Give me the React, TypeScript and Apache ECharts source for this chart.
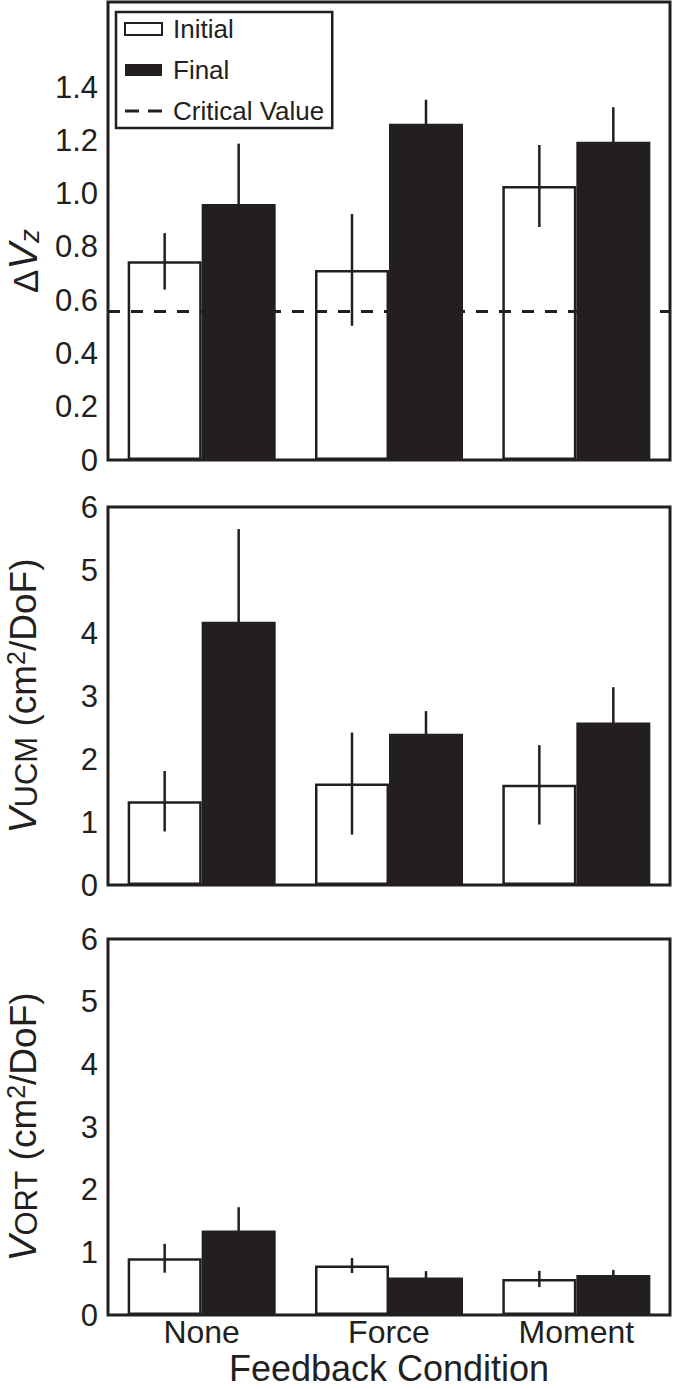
import React, { useEffect, useRef } from 'react';
import * as echarts from 'echarts';

const categories = ['None', 'Force', 'Moment'];

const dvzInitial = [0.746, 0.714, 1.029];
const dvzInitialErr = [0.106, 0.21, 0.154];
const dvzFinal = [0.961, 1.263, 1.195];
const dvzFinalErr = [0.227, 0.09, 0.13];
const criticalValue = 0.56;

const ucmInitial = [1.33, 1.61, 1.59];
const ucmInitialErr = [0.48, 0.81, 0.63];
const ucmFinal = [4.18, 2.4, 2.58];
const ucmFinalErr = [1.47, 0.36, 0.56];

const ortInitial = [0.905, 0.79, 0.575];
const ortInitialErr = [0.23, 0.12, 0.13];
const ortFinal = [1.35, 0.6, 0.64];
const ortFinalErr = [0.37, 0.1, 0.08];

const dvzTickLabels = ['0', '0.2', '0.4', '0.6', '0.8', '1.0', '1.2', '1.4'];
const varTickLabels = ['0', '1', '2', '3', '4', '5', '6'];

const INK = '#231f20';
const FONT = "'Liberation Sans', Arial, Helvetica, sans-serif";
const BAR_W = 74;

const dashIcon =
  'path://M0,0h0.01v0.01h-0.01z M0,4.6h14v2.8h-14z M23,4.6h14v2.8h-14z M36.99,11.99h0.01v0.01h-0.01z';

function errorSeries(idx: number, means: number[], errs: number[], offset: number) {
  return {
    type: 'custom',
    xAxisIndex: idx,
    yAxisIndex: idx,
    silent: true,
    z: 5,
    data: means.map((m, i) => [i, m - errs[i], m + errs[i]]),
    renderItem: (_params: any, api: any) => {
      const lo = api.coord([api.value(0), api.value(1)]);
      const hi = api.coord([api.value(0), api.value(2)]);
      return {
        type: 'line',
        shape: { x1: lo[0] + offset, y1: lo[1], x2: hi[0] + offset, y2: hi[1] },
        style: { stroke: INK, lineWidth: 2.5 },
      };
    },
  };
}

function barPair(idx: number, init: number[], fin: number[]) {
  return [
    {
      name: 'Initial',
      type: 'bar',
      xAxisIndex: idx,
      yAxisIndex: idx,
      barWidth: BAR_W,
      barGap: '0%',
      data: init,
      itemStyle: { color: '#ffffff', borderColor: INK, borderWidth: 2.5 },
      z: 2,
      ...(idx === 0
        ? {
            markLine: {
              silent: true,
              symbol: ['none', 'none'],
              label: { show: false },
              lineStyle: { type: [12, 11], width: 2.8, color: INK },
              data: [{ yAxis: criticalValue }],
            },
          }
        : {}),
    },
    {
      name: 'Final',
      type: 'bar',
      xAxisIndex: idx,
      yAxisIndex: idx,
      barWidth: BAR_W,
      barGap: '0%',
      data: fin,
      itemStyle: { color: INK },
      z: 3,
    },
  ];
}

const varRich = {
  v: { fontSize: 39, fontStyle: 'italic', verticalAlign: 'bottom', color: INK, fontFamily: FONT },
  s: { fontSize: 31, verticalAlign: 'bottom', color: INK, fontFamily: FONT },
  t: { fontSize: 37, verticalAlign: 'bottom', color: INK, fontFamily: FONT },
  p: { fontSize: 25, lineHeight: 6, verticalAlign: 'top', color: INK, fontFamily: FONT },
};

const dvzRich = {
  d: { fontSize: 35, verticalAlign: 'bottom', color: INK, fontFamily: FONT },
  v: { fontSize: 40, fontStyle: 'italic', verticalAlign: 'bottom', color: INK, fontFamily: FONT },
  z: { fontSize: 28, fontStyle: 'italic', lineHeight: 2, verticalAlign: 'bottom', color: INK, fontFamily: FONT },
};

export default function App() {
  const ref = useRef<HTMLDivElement>(null);

  useEffect(() => {
    document.body.style.margin = '0';
    if (!ref.current) return;
    const chart = echarts.init(ref.current, null, { renderer: 'svg' });

    const grids = [
      { left: 108, top: 2, width: 562, height: 458 },
      { left: 108, top: 507, width: 562, height: 378 },
      { left: 108, top: 939, width: 562, height: 376 },
    ].map((g) => ({
      ...g,
      show: true,
      borderColor: INK,
      borderWidth: 3,
      backgroundColor: 'transparent',
      containLabel: false,
      outerBoundsMode: 'none',
    }));

    const xAxes = [0, 1, 2].map((i) => ({
      type: 'category',
      gridIndex: i,
      data: categories,
      axisLine: { show: false },
      axisTick: { show: false },
      axisLabel: {
        show: i === 2,
        fontSize: 32,
        color: INK,
        margin: 1,
        fontFamily: FONT,
      },
      ...(i === 2
        ? {
            name: 'Feedback Condition',
            nameLocation: 'middle',
            nameGap: 36,
            nameTextStyle: { fontSize: 36, lineHeight: 34, color: INK, fontFamily: FONT },
          }
        : {}),
    }));

    const yAxes = [
      {
        type: 'value',
        gridIndex: 0,
        min: 0,
        max: 1.72,
        interval: 0.2,
        axisLine: { show: false },
        axisTick: { show: false },
        splitLine: { show: false },
        axisLabel: {
          fontSize: 31,
          color: INK,
          margin: 10,
          fontFamily: FONT,
          formatter: (v: number) => {
            const k = Math.round(v / 0.2);
            return Math.abs(v - k * 0.2) < 1e-6 && k < dvzTickLabels.length ? dvzTickLabels[k] : '';
          },
        },
        name: '{d|Δ}{v|V}{z|z}',
        nameLocation: 'middle',
        nameRotate: 90,
        nameGap: 65,
        nameTextStyle: { rich: dvzRich, padding: [0, 60, 0, 0] },
      },
      ...[1, 2].map((i) => ({
        type: 'value',
        gridIndex: i,
        min: 0,
        max: 6,
        interval: 1,
        axisLine: { show: false },
        axisTick: { show: false },
        splitLine: { show: false },
        axisLabel: {
          fontSize: 31,
          color: INK,
          margin: 10,
          fontFamily: FONT,
          formatter: (v: number) => varTickLabels[Math.round(v)] ?? '',
        },
        name: i === 1 ? '{v|V}{s|UCM}{t| (cm}{p|2}{t|/DoF)}' : '{v|V}{s|ORT}{t| (cm}{p|2}{t|/DoF)}',
        nameLocation: 'middle',
        nameRotate: 90,
        nameGap: 66,
        nameTextStyle: { rich: varRich },
      })),
    ];

    const series: any[] = [
      ...barPair(0, dvzInitial, dvzFinal),
      errorSeries(0, dvzInitial, dvzInitialErr, -BAR_W / 2),
      errorSeries(0, dvzFinal, dvzFinalErr, BAR_W / 2),
      ...barPair(1, ucmInitial, ucmFinal),
      errorSeries(1, ucmInitial, ucmInitialErr, -BAR_W / 2),
      errorSeries(1, ucmFinal, ucmFinalErr, BAR_W / 2),
      ...barPair(2, ortInitial, ortFinal),
      errorSeries(2, ortInitial, ortInitialErr, -BAR_W / 2),
      errorSeries(2, ortFinal, ortFinalErr, BAR_W / 2),
      {
        name: 'Critical Value',
        type: 'line',
        xAxisIndex: 0,
        yAxisIndex: 0,
        data: [],
        symbol: 'none',
        itemStyle: { color: INK, borderWidth: 0 },
        lineStyle: { color: INK, type: [12, 11], width: 2.5 },
      },
    ];

    chart.setOption({
      animation: false,
      textStyle: { fontFamily: FONT, color: INK },
      grid: grids,
      xAxis: xAxes,
      yAxis: yAxes,
      legend: {
        show: true,
        orient: 'vertical',
        left: 116,
        top: 12,
        padding: [4, 8, 4, 8],
        itemGap: 15,
        itemWidth: 37,
        itemHeight: 12,
        selectedMode: false,
        borderColor: INK,
        borderWidth: 2.5,
        backgroundColor: '#ffffff',
        textStyle: { fontSize: 26, lineHeight: 26, color: INK, fontFamily: FONT, padding: [0, 0, 0, 6] },
        data: [
          { name: 'Initial', icon: 'rect' },
          { name: 'Final', icon: 'rect' },
          { name: 'Critical Value', icon: dashIcon },
        ],
      },
      series,
    });

    return () => {
      chart.dispose();
    };
  }, []);

  return <div ref={ref} style={{ width: 675, height: 1389 }} />;
}
